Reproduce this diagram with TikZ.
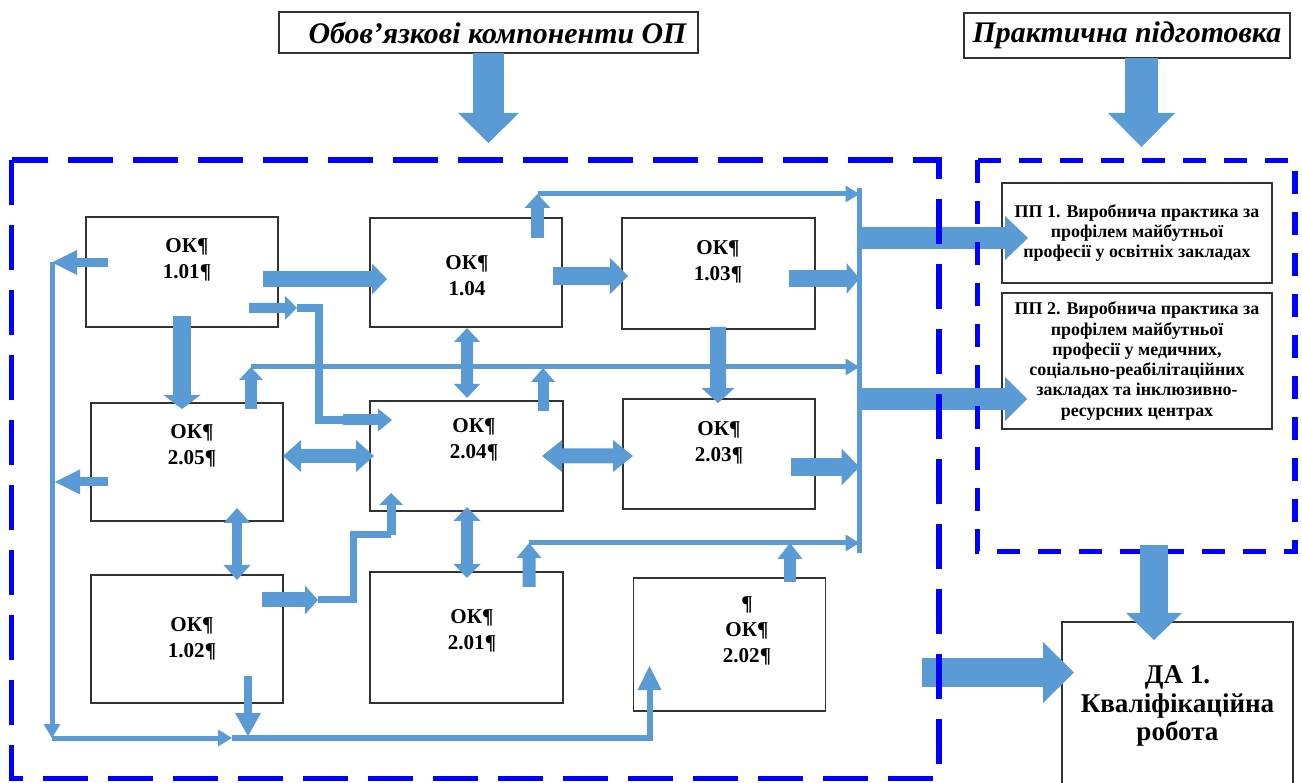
\documentclass[tikz,border=0pt]{standalone}
\usepackage{fontspec}
\setmainfont{Liberation Serif}
\usepackage{xcolor}
\usepackage{tikz}
\usetikzlibrary{arrows.meta,calc}
\definecolor{arrblue}{RGB}{91,155,213}
\definecolor{frameblue}{RGB}{0,0,255}
\tikzset{
    okbox/.style={draw=black!80, line width=0.45pt, fill=white, minimum width=19.2mm, inner sep=0pt, outer sep=0pt},
    oklabel/.style={font=\bfseries\fontsize{6}{7.4}\selectfont, align=center, inner sep=0pt},
    ppbox/.style={draw=black!80, line width=0.45pt, fill=white, minimum width=27mm, align=center, inner sep=0pt, outer sep=0pt, font=\bfseries\fontsize{5.1}{5.75}\selectfont},
    headbox/.style={draw=black!80, line width=0.55pt, fill=white, inner sep=0pt, outer sep=0pt, font=\bfseries\itshape\fontsize{8.5}{10}\selectfont},
    blk/.style n args={3}{draw=arrblue, line width=#1, -{Triangle[width=#2, length=#3, line width=0pt]}},
    dblk/.style n args={3}{draw=arrblue, line width=#1, {Triangle[width=#2, length=#3, line width=0pt]}-{Triangle[width=#2, length=#3, line width=0pt]}},
    netline/.style={draw=arrblue, line width=0.5mm},
    netarr/.style={netline, -{Triangle[width=1.7mm, length=1.4mm, line width=0pt]}},
    dashframe/.style 2 args={draw=frameblue, line width=1.45pt, dash pattern=on #1 off #2}
}
\begin{document}
\begin{tikzpicture}[x=1mm, y=-1mm]
        \useasboundingbox (0,0) rectangle (130.2,78.3);
        \node[headbox, minimum width=41.9mm, minimum height=4.1mm] (hob) at (48.85,3.25) {\hspace{1.8mm}Обов’язкові компоненти ОП};
        \node[headbox, minimum width=32.6mm, minimum height=4.5mm] (hpr) at (112.7,3.55) {Практична підготовка};
        \node[okbox, minimum height=11mm] (k101) at (18.2,27.2) {};
        \node[okbox, minimum height=10.9mm] (k104) at (46.6,27.25) {};
        \node[okbox, minimum height=11.1mm, minimum width=19.3mm] (k103) at (71.85,27.35) {};
        \node[okbox, minimum height=11.8mm] (k205) at (18.7,46.2) {};
        \node[okbox, minimum height=11mm, minimum width=19.3mm] (k204) at (46.65,45.6) {};
        \node[okbox, minimum height=11mm] (k203) at (71.9,45.4) {};
        \node[okbox, minimum height=12.8mm] (k102) at (18.7,63.9) {};
        \node[okbox, minimum height=13.1mm, minimum width=19.3mm] (k201) at (46.65,63.75) {};
        \node[okbox, minimum height=13.3mm] (k202) at (72.95,64.45) {};
        \node[oklabel] (t101) at (18.7,26.0) {ОК¶\\1.01¶};
        \node[oklabel] (t104) at (46.7,27.6) {ОК¶\\1.04};
        \node[oklabel] (t103) at (71.8,26.2) {ОК¶\\1.03¶};
        \node[oklabel] (t205) at (19.2,44.6) {ОК¶\\2.05¶};
        \node[oklabel] (t204) at (47.4,44.0) {ОК¶\\2.04¶};
        \node[oklabel] (t203) at (71.9,44.3) {ОК¶\\2.03¶};
        \node[oklabel] (t102) at (19.2,63.9) {ОК¶\\1.02¶};
        \node[oklabel] (t201) at (47.2,63.1) {ОК¶\\2.01¶};
        \node[oklabel] (t202) at (74.7,63.1) {¶\\ОК¶\\2.02¶};
        \node[ppbox, minimum height=10mm] (pp1) at (113.7,23.3) {ПП 1. Виробнича практика за\\профілем майбутньої\\професії у освітніх закладах};
        \node[ppbox, minimum height=13.6mm] (pp2) at (113.7,36.1) {ПП 2. Виробнича практика за\\профілем майбутньої\\професії у медичних,\\соціально-реабілітаційних\\закладах та інклюзивно-\\ресурсних центрах};
        \node[okbox, minimum width=23.1mm, minimum height=16.8mm, align=center, font=\bfseries\fontsize{7.7}{8.1}\selectfont] (da1) at (117.75,70.6) {ДА 1.\\Кваліфікаційна\\робота};
        \coordinate (cTop) at (85.95,18.8);
        \coordinate (cBot) at (85.95,55.3);
        \coordinate (l1) at (53.75,19.4);
        \coordinate (l2) at (25.1,36.7);
        \coordinate (l3) at (52.9,54.3);
        \coordinate (lTL) at (5.2,26.25);
        \coordinate (lBL) at (5.2,73.8);
        \coordinate (lJ) at (23.2,73.8);
        \coordinate (b1) at (29.7,30.8);
        \coordinate (bk) at (31.9,42.0);
        \coordinate (b2) at (34.3,42.0);
        \coordinate (s1) at (31.8,60.0);
        \coordinate (sk) at (35.3,53.5);
        \coordinate (s2) at (39.1,53.5);
        \draw[netline] (cTop) -- (cBot);
        \draw[netarr] (l1) -- (l1 -| cTop);
        \draw[netarr] (l2) -- (l2 -| cTop);
        \draw[netarr] (l3) -- (l3 -| cTop);
        \draw[netarr] (lTL) -- (lBL);
        \draw[netarr] (lBL) -- (lJ);
        \draw[netarr, line width=0.6mm, -{Triangle[width=2.4mm, length=2.4mm, line width=0pt]}] (lJ) -| ($(k202.south west)+(1.6,-4.5)$);
        \draw[netline, line width=0.8mm] (b1) -| (bk) -- (b2);
        \draw[netline, line width=0.7mm] (s1) -| (sk) -- (s2);
        \draw[blk={3.1mm}{6.1mm}{3mm}] (hob.south) -- ++(0,9.0);
        \draw[blk={3.3mm}{6.7mm}{3.4mm}] ($(hpr.south)+(1.45,0)$) -- ++(0,8.9);
        \draw[blk={1.6mm}{3.1mm}{1.5mm}] ($(k101.east)+(-1.5,0.7)$) -- ($(k104.west)+(1.7,0.65)$);
        \draw[blk={1.8mm}{3.6mm}{1.8mm}] ($(k104.east)+(-0.9,0.35)$) -- ($(k103.west)+(0.6,0.25)$);
        \draw[blk={1.7mm}{3.1mm}{1.3mm}] ($(k103.east)+(-2.6,0.5)$) -- ++(7.05,0);
        \draw[blk={1.3mm}{2.6mm}{1.4mm}] ($(l1)+(0,4.4)$) -- (l1);
        \draw[blk={0.9mm}{2.5mm}{2.5mm}] ($(k101.west)+(2.2,-0.95)$) -- (lTL);
        \draw[blk={1.8mm}{3.7mm}{1.4mm}] ($(k101.south)+(0,-1.1)$) -- ($(k101.south |- k205.north)+(0,0.6)$);
        \draw[blk={1.0mm}{2.4mm}{1.2mm}] ($(k101.east)+(-2.9,3.6)$) -- (b1);
        \draw[blk={1.1mm}{2.3mm}{1.4mm}] (b2) -- ++(4.9,0);
        \draw[dblk={1.2mm}{2.6mm}{1.4mm}] ($(k104.south)+(0.1,0.1)$) -- ($(k204.north)+(0.05,-0.3)$);
        \draw[blk={1.6mm}{3.3mm}{1.5mm}] ($(k103.south)+(-0.05,-0.2)$) -- ($(k203.north)+(-0.1,0.4)$);
        \draw[blk={1.2mm}{2.4mm}{1.3mm}] ($(l2)+(0,4.2)$) -- (l2);
        \draw[blk={1.1mm}{2.4mm}{1.4mm}] ($(k204.north)+(7.65,1.0)$) -- ++(0,-4.3);
        \draw[blk={0.9mm}{2.5mm}{2.5mm}] ($(k205.west)+(1.7,2.0)$) -- ++(-5.3,0);
        \draw[dblk={1.4mm}{3.2mm}{1.8mm}] ($(k205.east)+(0,-0.6)$) -- ($(k204.west)+(0.4,0)$);
        \draw[dblk={1.5mm}{3.2mm}{2mm}] ($(k204.east)+(-2.1,0)$) -- ($(k203.west)+(1.0,0.2)$);
        \draw[blk={1.8mm}{3.7mm}{1.8mm}] ($(k203.east)+(-2.4,1.3)$) -- ++(6.85,0);
        \draw[dblk={1.0mm}{2.7mm}{1.5mm}] ($(k205.south)+(5.0,-1.3)$) -- ($(k102.north)+(5.0,0.5)$);
        \draw[dblk={1.2mm}{2.7mm}{1.4mm}] ($(k204.south)+(0.05,-0.4)$) -- ($(k201.north)+(0.05,0.6)$);
        \draw[blk={1.5mm}{2.9mm}{1.3mm}] ($(k102.east)+(-2.1,-3.9)$) -- (s1);
        \draw[blk={0.9mm}{2.4mm}{1.2mm}] (s2) -- ++(0,-4.2);
        \draw[blk={1.3mm}{2.5mm}{1.5mm}] ($(k201.north)+(6.25,1.5)$) -- (l3);
        \draw[blk={1.2mm}{2.5mm}{1.6mm}] ($(k202.north)+(6.05,0.4)$) -- ++(0,-3.9);
        \draw[blk={0.8mm}{2.6mm}{2.3mm}] ($(k102.south)+(6.1,-2.7)$) -- ++(0,6.0);
        \draw[blk={2.2mm}{4.4mm}{2.3mm}] ($(cTop |- pp1.west)+(0.25,0.5)$) -- ($(pp1.west)+(2.6,0.5)$);
        \draw[blk={2.2mm}{4.4mm}{2.2mm}] ($(cTop |- pp2.west)+(0.25,3.8)$) -- ($(pp2.west)+(2.5,3.8)$);
        \draw[blk={2.9mm}{6.1mm}{3.1mm}] ($(da1.west)+(-14.0,-3.35)$) -- ($(da1.west)+(1.2,-3.35)$);
        \draw[dashframe={4.5mm}{2mm}] (1.17,16.0) rectangle (93.9,77.85);
        \draw[dashframe={2.3mm}{1.8mm}] (97.75,16.05) rectangle (129.5,55.15);
        \draw[blk={2.8mm}{5.6mm}{2.7mm}] ($(da1.north)+(-2.35,-7.7)$) -- ($(da1.north)+(-2.35,1.8)$);
    \end{tikzpicture}
\end{document}
